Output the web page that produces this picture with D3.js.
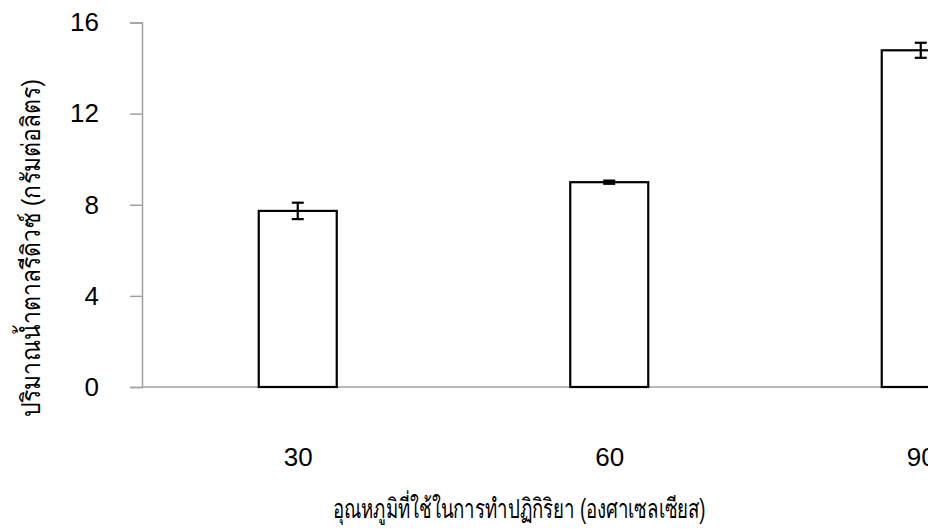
<!DOCTYPE html>
<html>
<head>
<meta charset="utf-8">
<script src="https://cdn.jsdelivr.net/npm/d3@7"></script>
<style>
  body { margin: 0; background: #fff; }
  svg { display: block; }
  text { font-family: "Liberation Sans", Arial, "Noto Sans", sans-serif; fill: #000; }
</style>
</head>
<body>
<svg id="chart" width="928" height="529"></svg>
<script>
// temperature categories (องศาเซลเซียส)
const temps = ["30", "60", "90"];
// reducing sugar (g/L)
const sugar = [7.73, 8.99, 14.78];
const sugarErr = [0.36, 0.07, 0.33];
const yTicks = [0, 4, 8, 12, 16];

const xTitle = "อุณหภูมิที่ใช้ในการทำปฏิกิริยา (องศาเซลเซียส)";
const yTitle = "ปริมาณน้ำตาลรีดิวซ์ (กรัมต่อลิตร)";

const svg = d3.select("#chart");
const plotLeft = 142, plotBottom = 387, plotTop = 22.5;
const axisColor = "#a0a0a0";

// plot area runs past the right edge of the window, like the reference
let x = d3.scalePoint().domain(temps).range([plotLeft, plotLeft + 934.5]).padding(0.5);
let y = d3.scaleLinear().domain([0, 16]).range([plotBottom, plotTop]);
const barW = 78;

// y axis
let yAxis = d3.axisLeft(y).tickValues(yTicks).tickSize(12).tickPadding(31);
let gy = svg.append("g").attr("transform", "translate(" + plotLeft + ",0)").call(yAxis);
gy.select(".domain").attr("stroke", axisColor).attr("stroke-width", 1.5);
gy.selectAll(".tick line").attr("stroke", axisColor).attr("stroke-width", 1.5);
gy.selectAll(".tick text").attr("font-size", 26).attr("fill", "#333")
  .attr("font-family", "Liberation Sans, Arial, sans-serif");

// x axis (baseline only, labels below)
let xAxis = d3.axisBottom(x).tickSize(0).tickPadding(61);
let gx = svg.append("g").attr("transform", "translate(0," + plotBottom + ")").call(xAxis);
gx.select(".domain").attr("stroke", axisColor).attr("stroke-width", 1.5)
  .attr("d", "M" + plotLeft + ",0H1100");
gx.selectAll(".tick text").attr("font-size", 26).attr("fill", "#333")
  .attr("font-family", "Liberation Sans, Arial, sans-serif");

// bars
svg.append("g").selectAll("rect").data(sugar).enter()
  .append("rect")
  .attr("x", (d, i) => x(temps[i]) - barW / 2)
  .attr("y", d => y(d))
  .attr("width", barW)
  .attr("height", d => plotBottom - y(d))
  .attr("fill", "#fff")
  .attr("stroke", "#000")
  .attr("stroke-width", 2.2);

// error bars
let eb = svg.append("g").selectAll("g").data(sugar).enter().append("g")
  .attr("stroke", "#000").attr("stroke-width", 2.2);
eb.append("line")
  .attr("x1", (d, i) => x(temps[i])).attr("x2", (d, i) => x(temps[i]))
  .attr("y1", (d, i) => y(d + sugarErr[i])).attr("y2", (d, i) => y(d - sugarErr[i]));
[1, -1].forEach(s => {
  eb.append("line")
    .attr("x1", (d, i) => x(temps[i]) - 6).attr("x2", (d, i) => x(temps[i]) + 6)
    .attr("y1", (d, i) => y(d + s * sugarErr[i])).attr("y2", (d, i) => y(d + s * sugarErr[i]));
});

// axis titles
svg.append("text")
  .attr("x", 519).attr("y", 518)
  .attr("text-anchor", "middle")
  .attr("font-size", 27)
  .attr("fill", "#111")
  .attr("textLength", 373)
  .attr("lengthAdjust", "spacingAndGlyphs")
  .text(xTitle);

svg.append("text")
  .attr("transform", "translate(40,248) rotate(-90)")
  .attr("text-anchor", "middle")
  .attr("font-size", 26)
  .attr("fill", "#111")
  .attr("textLength", 338)
  .attr("lengthAdjust", "spacingAndGlyphs")
  .text(yTitle);
</script>
</body>
</html>
